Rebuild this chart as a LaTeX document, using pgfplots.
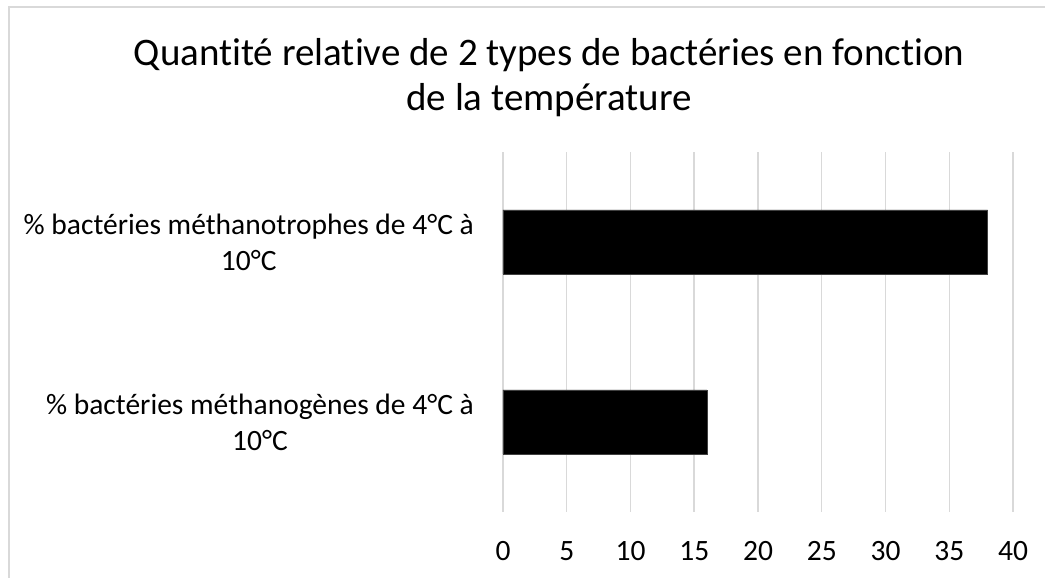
\documentclass[border=0pt]{standalone}
\usepackage{fontspec}
\setmainfont{Carlito}[Ligatures={NoCommon}]
\usepackage{pgfplots}
\pgfplotsset{compat=1.18}
\definecolor{gridgray}{HTML}{D9D9D9}
\begin{document}
\begin{tikzpicture}[x=1pt,y=1pt]
\useasboundingbox (0,0) rectangle (1045,578);
\draw[gridgray, line width=1.5pt] (9,0) -- (9,571) -- (1045,571);
\node[align=center, inner sep=0, font=\fontsize{39}{45}\selectfont] at (549,500) {Quantité relative de 2 types de bactéries en fonction\\de la température};
\begin{axis}[
  at={(503pt,66pt)}, anchor=south west,
  scale only axis, width=510pt, height=360pt,
  xbar, xmin=0, xmax=40, ymin=-0.5, ymax=1.5,
  xtick={0,5,...,40}, ytick={0,1},
  yticklabels={{\% bactéries méthanogènes de 4°C à\\10°C},{\% bactéries méthanotrophes de 4°C à\\10°C}},
  axis line style={draw=none},
  major tick length=0pt,
  xmajorgrids, grid style={gridgray, line width=1.5pt},
  bar width=64pt,
  /pgf/number format/assume math mode=true,
  xticklabel style={font=\fontsize{29.5}{36}\selectfont, anchor=north, inner sep=0pt, yshift=-29pt},
  yticklabel style={font=\fontsize{29.5}{36}\selectfont, anchor=east, inner sep=0pt, xshift=-29pt, align=center},
]
\addplot[fill=black, draw=black!75, line width=0.8pt] coordinates {(16,0) (38,1)};
\end{axis}
\end{tikzpicture}
\end{document}
